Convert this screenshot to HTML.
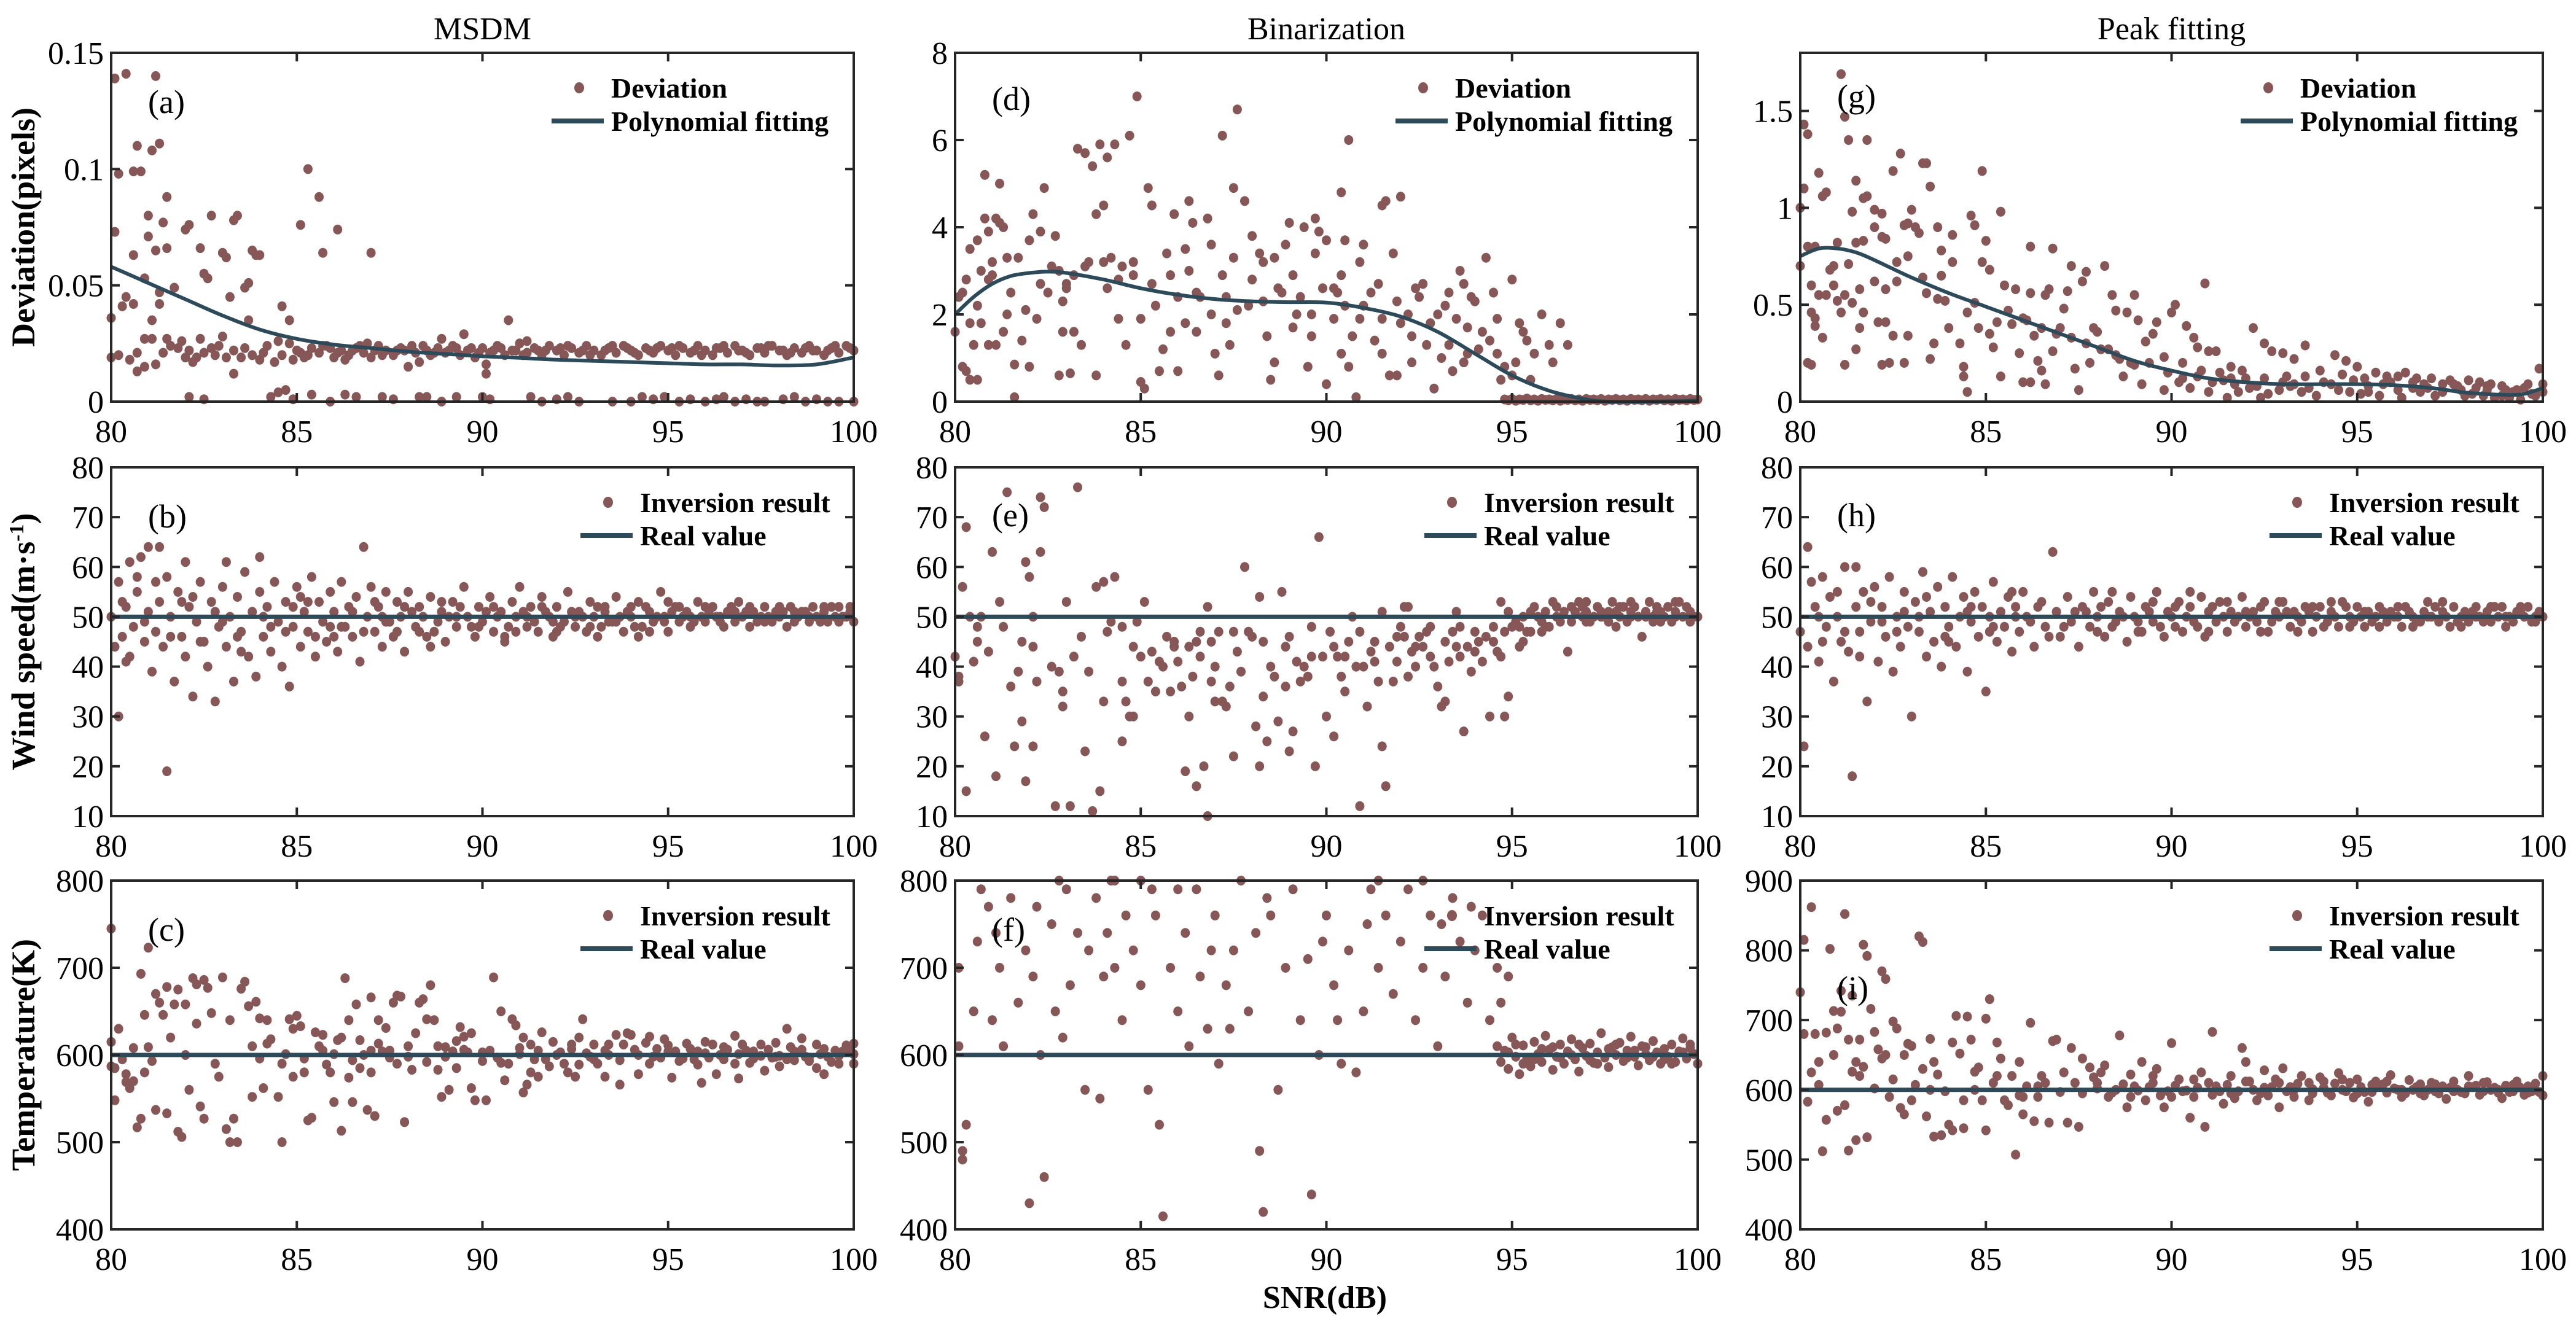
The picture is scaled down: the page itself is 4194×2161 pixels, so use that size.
<!DOCTYPE html>
<html><head><meta charset="utf-8"><style>
html,body{margin:0;padding:0;background:#fff}
svg{display:block}
text{font-family:"Liberation Serif","Times New Roman",serif;fill:#000}
</style></head><body>
<svg id="fig" width="4194" height="2161" viewBox="0 0 4194 2161" xmlns="http://www.w3.org/2000/svg"></svg>
<script>
// ---------- data (flat x,y pairs) ----------
const xTicks = [80, 85, 90, 95, 100];
const xTickLabels = ['80', '85', '90', '95', '100'];

const devMsdmPts = [80.1,0.139,80.4,0.141,81.2,0.140,80.2,0.098,80.6,0.099,80.8,0.099,80.7,0.110,81.1,0.108,81.3,0.111,81.5,0.088,81.4,0.077,81.0,0.080,80.1,0.073,81.0,0.071,81.2,0.065,82.0,0.074,82.1,0.076,82.7,0.080,83.3,0.078,83.4,0.080,82.4,0.066,83.0,0.064,83.1,0.062,83.8,0.065,83.9,0.063,84.0,0.063,80.6,0.063,81.5,0.066,80.9,0.053,80.4,0.045,80.6,0.042,80.3,0.041,80.0,0.036,81.1,0.035,81.3,0.047,81.3,0.042,81.7,0.049,82.5,0.055,82.6,0.053,83.2,0.045,83.7,0.051,83.6,0.049,83.7,0.035,84.6,0.041,84.8,0.035,85.1,0.076,85.3,0.100,85.6,0.088,85.7,0.064,86.1,0.074,87.0,0.064,90.7,0.035,80.7,0.013,83.3,0.012,90.1,0.012,80.9,0.027,81.1,0.027,81.5,0.027,82.4,0.027,82.1,0.022,
80.0,0.019,80.2,0.020,80.5,0.018,80.7,0.021,80.9,0.015,81.2,0.016,81.4,0.021,81.6,0.024,81.8,0.023,82.0,0.019,82.2,0.017,82.3,0.019,82.5,0.021,82.7,0.023,82.9,0.024,83.1,0.019,83.3,0.022,83.5,0.019,83.8,0.020,84.0,0.018,84.2,0.024,84.4,0.017,84.6,0.020,84.8,0.025,85.0,0.022,85.2,0.019,85.4,0.023,85.6,0.021,85.8,0.024,86.0,0.019,86.2,0.022,86.4,0.020,86.6,0.023,86.8,0.021,87.0,0.019,87.2,0.024,87.4,0.022,87.6,0.020,87.8,0.023,88.0,0.015,88.2,0.021,88.4,0.024,88.6,0.020,88.8,0.023,89.0,0.021,89.2,0.024,89.4,0.020,89.6,0.022,89.8,0.019,90.0,0.023,90.2,0.021,90.4,0.024,90.6,0.020,90.8,0.022,91.0,0.025,91.2,0.021,91.4,0.023,91.6,0.020,91.8,0.024,92.0,0.022,92.2,0.020,92.4,0.023,92.6,0.021,92.8,0.024,93.0,0.022,93.2,0.020,93.4,0.023,93.6,0.021,93.8,0.024,94.0,0.022,94.2,0.020,94.4,0.023,94.6,0.021,94.8,0.024,95.0,0.022,95.2,0.020,95.4,0.023,95.6,0.021,95.8,0.024,96.0,0.022,96.2,0.020,96.4,0.023,96.6,0.021,96.8,0.024,97.0,0.022,97.2,0.020,97.4,0.023,97.6,0.021,97.8,0.024,98.0,0.022,98.2,0.020,98.4,0.023,98.6,0.021,98.8,0.024,99.0,0.022,99.2,0.020,99.4,0.023,99.6,0.021,99.8,0.024,100,0.022,
85.1,0.021,85.9,0.023,86.5,0.022,87.1,0.022,87.9,0.022,88.5,0.022,89.1,0.022,89.7,0.023,90.3,0.022,90.9,0.022,91.5,0.022,92.1,0.023,92.7,0.022,93.3,0.022,93.9,0.023,94.5,0.022,95.1,0.023,95.7,0.022,96.3,0.023,96.9,0.022,97.5,0.023,98.1,0.022,98.7,0.023,99.3,0.022,99.9,0.023,
82.1,0.002,82.5,0.001,84.3,0.002,84.5,0.004,84.7,0.005,84.9,0.001,85.4,0.003,85.9,0.000,86.3,0.003,86.6,0.002,87.3,0.002,87.6,0.001,88.3,0.002,88.5,0.002,88.9,0.000,89.3,0.002,90.0,0.002,90.2,0.001,91.3,0.002,91.6,0.000,92.0,0.001,92.3,0.002,92.6,0.000,93.5,0.000,94.0,0.000,94.3,0.002,94.6,0.001,94.9,0.002,95.3,0.000,95.6,0.001,96.0,0.000,96.3,0.001,96.5,0.002,96.8,0.000,97.1,0.001,97.4,0.000,97.6,0.000,98.1,0.001,98.4,0.002,98.7,0.000,99.0,0.001,99.3,0.000,99.6,0.000,100,0.000];
const devMsdmExtra = [85.3,0.020,85.7,0.024,86.1,0.021,86.7,0.024,87.3,0.020,87.7,0.022,88.1,0.024,88.7,0.021,89.3,0.023,89.9,0.021,90.5,0.023,91.1,0.020,91.7,0.022,92.3,0.024,92.9,0.020,93.5,0.024,94.1,0.021,94.7,0.023,95.3,0.024,95.9,0.020,96.5,0.024,97.1,0.021,97.7,0.024,98.3,0.021,98.9,0.022,99.5,0.024,82.8,0.020,83.6,0.023,84.1,0.021,84.9,0.018,81.9,0.026,83.0,0.028,84.5,0.026,86.9,0.025,88.9,0.027,89.5,0.029,91.2,0.026,90.1,0.016,86.3,0.018,88.3,0.017];

const devBinPts = [80.1,2.4,80.2,2.5,80.3,2.8,80.4,3.5,80.6,3.7,80.7,3.0,80.9,3.9,80.8,4.2,81.1,4.2,81.2,4.1,81.3,4.0,80.8,5.2,81.2,5.0,81.4,3.3,81.5,2.5,81.3,1.6,81.1,1.3,80.9,1.3,80.5,1.3,80.4,1.8,80.0,1.6,80.2,0.8,80.3,0.7,80.4,0.5,80.6,0.5,80.7,1.8,80.9,2.8,81.0,2.9,81.6,0.85,81.6,0.1,81.8,1.4,81.9,2.1,82.0,3.7,82.1,4.3,82.2,1.9,82.3,3.9,82.4,4.9,82.5,2.5,82.6,3.1,82.7,3.8,82.8,0.6,82.9,1.6,83.0,2.7,83.1,0.65,83.2,2.9,83.3,5.8,83.5,5.7,83.4,1.3,83.6,3.2,83.7,5.4,83.8,4.3,83.9,5.9,84.0,4.5,84.1,5.6,84.2,3.3,84.3,5.9,84.4,2.8,84.5,3.1,84.7,6.1,84.8,3.2,84.9,7.0,85.0,1.9,85.2,4.9,85.3,4.5,85.1,0.3,85.0,0.45,85.4,2.2,85.5,0.7,85.6,1.2,85.7,3.4,85.9,4.3,86.0,2.4,86.2,1.8,86.3,4.6,86.4,4.1,86.5,1.6,86.6,2.4,86.8,4.2,86.9,3.6,87.0,1.1,87.1,0.6,87.2,2.9,87.3,1.8,87.5,3.3,87.6,2.1,87.8,4.6,87.9,2.2,88.0,3.8,88.2,3.4,88.3,3.2,88.4,1.5,88.6,0.9,88.7,2.6,88.8,2.5,89.0,4.1,89.1,1.7,89.3,2.4,89.4,4.0,89.5,0.8,89.6,2.0,89.7,4.2,89.8,3.9,90.0,3.7,90.2,2.6,90.3,2.5,90.5,2.2,90.4,1.1,90.6,0.8,90.7,1.5,90.9,3.2,91.0,3.6,91.2,2.5,91.3,1.4,91.5,1.1,91.7,0.6,91.8,3.4,91.9,0.6,92.0,1.8,92.2,2.0,92.3,1.5,92.4,2.6,92.6,2.7,92.7,1.3,92.9,0.3,93.0,2.0,93.1,1.0,93.3,1.3,93.5,1.9,93.6,3.0,93.7,2.7,93.8,1.7,94.0,2.3,94.2,1.6,94.3,3.3,94.5,2.5,94.6,1.9,94.8,0.8,95.0,2.8,95.2,1.8,95.4,1.4,95.6,1.1,95.8,2.0,96.0,1.3,96.3,1.8,96.5,1.3,87.2,6.1,87.6,6.7,87.5,4.9,90.6,6.0,91.5,4.5,91.6,4.6,92.0,4.7,90.4,4.8,90.5,3.7,93.4,0.7,94.7,0.5,93.8,1.1,95.1,0.9,82.0,0.8,83.8,0.6,84.6,1.3,86.0,0.7,88.5,0.5,90.0,0.4,90.8,0.1,81.0,3.2,82.8,3.0,83.0,2.6,84.0,3.2,85.8,2.9,86.5,2.5,87.3,2.4,88.3,2.3,89.2,2.0,89.6,1.5,90.2,1.9,91.0,2.2,91.5,1.9,92.5,2.4,93.2,2.2,93.9,2.4,94.4,1.4,95.3,1.6,
94.8,0.05,94.9,0.03,95.0,0.06,95.1,0.02,95.2,0.05,95.3,0.04,95.4,0.07,95.5,0.03,95.6,0.05,95.7,0.02,95.8,0.06,95.9,0.04,96.0,0.05,96.1,0.03,96.2,0.06,96.3,0.02,96.4,0.05,96.5,0.04,96.6,0.06,96.7,0.03,96.8,0.05,96.9,0.02,97.0,0.06,97.1,0.04,97.2,0.05,97.3,0.03,97.4,0.06,97.5,0.02,97.6,0.05,97.7,0.04,97.8,0.06,97.9,0.03,98.0,0.05,98.1,0.02,98.2,0.06,98.3,0.04,98.4,0.05,98.5,0.03,98.6,0.06,98.7,0.02,98.8,0.05,98.9,0.04,99.0,0.06,99.1,0.03,99.2,0.05,99.3,0.02,99.4,0.06,99.5,0.04,99.6,0.05,99.7,0.03,99.8,0.06,99.9,0.04,100,0.05];
const devBinExtra = [80.6,2.2,81.4,2.0,82.3,2.7,82.9,2.3,83.5,3.1,84.1,2.6,84.8,2.9,85.3,2.7,85.8,1.6,86.3,3.0,86.9,2.0,87.4,1.3,88.0,2.8,88.6,3.3,89.1,2.9,89.9,2.6,90.4,2.9,90.9,1.9,91.4,2.7,91.9,2.3,92.3,0.9,92.8,1.8,93.3,2.5,93.7,0.9,94.1,1.2,94.6,1.1,95.0,0.6,95.5,0.5,96.1,0.9,86.2,3.5,88.9,3.6,89.7,3.4,84.4,1.9,83.2,1.6,81.7,3.3];

const devPeakPts = [80.0,1.0,80.1,1.43,80.2,1.38,80.1,1.1,80.5,1.18,80.6,1.06,80.7,1.08,80.0,0.7,80.3,0.6,80.2,0.8,80.4,0.8,80.5,0.55,80.7,0.55,80.8,0.68,80.9,0.7,80.9,0.6,81.0,0.82,81.0,0.52,81.2,0.55,81.1,0.46,81.3,0.71,80.3,0.46,80.4,0.43,80.4,0.39,80.6,0.33,80.2,0.2,80.3,0.19,81.2,0.19,81.5,0.27,81.4,0.51,81.6,0.38,81.7,0.46,81.6,0.58,81.4,0.98,81.7,1.05,81.8,1.06,81.5,0.82,81.7,0.83,81.1,1.69,81.2,1.47,81.3,1.35,81.8,1.35,81.5,1.14,82.0,0.99,82.2,0.97,82.0,0.90,82.2,0.85,82.3,0.84,82.0,0.62,82.3,0.58,82.1,0.41,82.3,0.41,82.5,0.34,82.2,0.19,82.4,0.2,82.5,1.19,82.6,0.72,82.6,0.62,82.7,1.28,82.8,0.91,82.9,0.92,83.0,0.99,82.9,0.75,82.8,0.20,82.9,0.34,83.1,0.9,83.2,0.87,83.3,1.23,83.4,1.23,83.3,0.64,83.4,0.56,83.5,1.11,83.5,0.22,83.6,0.30,83.7,0.53,83.8,0.65,83.7,0.9,83.8,0.78,83.9,0.52,84.0,0.38,84.1,0.86,84.1,0.72,84.3,0.30,84.4,0.18,84.4,0.13,84.5,0.05,84.5,0.46,84.6,0.96,84.7,0.91,84.7,0.51,84.8,0.38,84.9,0.72,85.0,0.83,85.1,0.68,85.1,0.35,85.2,0.28,84.9,1.19,85.5,0.60,85.6,0.47,85.4,0.98,85.8,0.58,86.0,0.43,86.2,0.80,86.2,0.56,86.3,0.34,86.4,0.21,86.5,0.16,86.0,0.10,86.2,0.10,86.6,0.55,86.7,0.58,87.0,0.38,87.2,0.57,87.4,0.17,87.5,0.06,87.3,0.70,87.6,0.62,86.8,0.79,87.7,0.67,87.9,0.38,88.0,0.36,88.3,0.27,88.6,0.22,89.0,0.19,89.3,0.31,89.6,0.41,89.8,0.23,89.2,0.09,89.8,0.06,88.2,0.70,88.5,0.47,88.8,0.46,89.0,0.55,90.0,0.46,90.1,0.5,90.3,0.2,90.4,0.39,90.6,0.33,90.7,0.28,90.9,0.61,91.0,0.26,91.2,0.26,91.4,0.11,91.6,0.18,91.8,0.05,92.0,0.12,92.2,0.38,92.5,0.30,92.7,0.26,93.0,0.25,93.3,0.22,93.6,0.29,91.5,0.02,92.4,0.02,93.0,0.10,93.2,0.08,93.6,0.13,94.0,0.16,94.4,0.24,94.7,0.21,95.0,0.18,95.2,0.12,95.5,0.15,94.8,0.05,95.3,0.05,95.9,0.10,96.1,0.13,96.3,0.15,96.5,0.07,96.7,0.05,97.0,0.12,97.3,0.09,97.6,0.09,98.0,0.11,98.3,0.10,98.5,0.08,98.9,0.08,99.2,0.05,99.6,0.09,99.9,0.17,100,0.05,99.4,0.01,98.7,0.02,97.9,0.03,
85.3,0.41,85.7,0.40,86.1,0.42,86.5,0.38,86.9,0.35,87.3,0.33,87.7,0.30,88.1,0.27,88.5,0.24,88.9,0.20,89.4,0.20,89.9,0.15,90.3,0.12,90.7,0.13,91.1,0.10,91.3,0.15,91.7,0.09,92.1,0.07,92.5,0.12,92.9,0.06,93.3,0.09,93.7,0.07,94.1,0.10,94.5,0.06,94.9,0.11,95.3,0.08,95.7,0.09,96.1,0.06,96.5,0.10,96.9,0.07,97.3,0.05,97.7,0.08,98.1,0.04,98.5,0.06,98.9,0.03,99.3,0.06,99.7,0.04,100,0.09];
const devPeakExtra = [90.2,0.10,90.5,0.07,90.8,0.16,91.0,0.05,91.6,0.12,91.9,0.16,92.3,0.08,92.6,0.04,93.1,0.13,93.5,0.05,93.9,0.03,94.3,0.09,94.6,0.14,95.1,0.04,95.6,0.03,95.8,0.13,96.2,0.02,96.6,0.12,96.8,0.09,97.1,0.03,97.5,0.11,97.8,0.06,98.2,0.07,98.4,0.03,98.6,0.09,99.0,0.06,99.1,0.02,99.5,0.07,99.8,0.03,86.8,0.26,87.1,0.48,87.8,0.20,88.4,0.55,88.7,0.13,89.5,0.35,89.1,0.42,85.9,0.25,85.4,0.13,86.6,0.09];

const windMsdmPts = [80.0,50,80.1,44,80.2,30,80.2,57,80.3,46,80.4,52,80.5,61,80.5,42,80.6,48,80.7,55,80.8,62,80.9,45,81.0,64,81.0,51,81.1,39,81.2,47,81.3,64,81.3,53,81.4,44,81.5,19,81.5,58,81.6,50,81.7,37,81.8,55,81.9,46,82.0,61,82.0,42,82.1,52,82.2,34,82.3,49,82.4,57,82.5,45,82.6,40,82.7,53,82.8,33,82.9,48,83.0,56,83.1,61,83.1,44,83.2,50,83.3,37,83.4,54,83.5,47,83.6,59,83.7,42,83.8,51,83.9,38,84.0,62,84.0,55,84.1,46,84.2,52,84.3,43,84.4,57,84.5,49,84.6,40,84.7,53,84.8,36,84.9,48,85.0,56,85.1,44,85.2,51,85.3,47,85.4,58,85.5,42,85.6,53,85.7,49,85.8,45,85.9,55,86.0,51,86.1,43,86.2,57,86.3,48,86.4,52,86.5,46,86.6,54,86.7,41,86.8,64,86.9,50,87.0,56,87.1,47,87.2,52,87.3,44,87.4,55,87.5,49,87.6,46,87.7,53,87.8,50,87.9,43,88.0,55,88.2,48,88.3,52,88.5,46,88.6,54,88.8,49,88.9,51,89.0,45,89.2,53,89.3,48,89.5,56,89.6,50,89.8,46,89.9,52,90.0,49,90.2,54,90.3,47,90.5,51,90.6,45,90.8,53,90.9,50,91.0,56,91.2,48,91.3,52,91.5,47,91.6,54,91.8,50,91.9,46,92.0,52,92.2,49,92.3,55,92.5,48,92.6,51,92.8,47,92.9,53,93.0,50,93.2,48,93.3,52,93.5,49,93.6,54,93.8,47,93.9,51,94.0,50,94.2,53,94.3,48,94.5,51,94.6,49,94.8,55,94.9,50,95.0,47,95.2,52,95.3,49,95.5,51,95.6,48,95.8,53,95.9,50,96.0,49,96.2,52,96.3,50,96.5,48,96.6,51,96.8,49,96.9,53,97.0,50,97.2,48,97.3,51,97.5,50,97.6,52,97.8,49,97.9,51,98.0,50,98.2,48,98.3,52,98.5,50,98.6,51,98.8,49,98.9,52,99.0,50,99.2,51,99.3,49,99.5,50,99.6,52,99.8,50,99.9,51,100,49,
80.3,53,80.9,49,81.6,46,82.2,54,82.8,51,83.4,46,84.1,50,84.7,47,85.3,53,85.9,48,86.5,51,87.1,53,87.7,47,88.1,51,88.4,50,88.7,47,89.1,50,89.4,52,89.7,48,90.1,51,90.4,50,90.7,48,91.1,51,91.4,49,91.7,51,92.1,48,92.4,51,92.7,50,93.1,52,93.4,49,93.7,50,94.1,48,94.4,52,94.7,50,95.1,51,95.4,50,95.7,49,96.1,51,96.4,49,96.7,52,97.1,51,97.4,49,97.7,50,98.1,51,98.4,49,98.7,51,99.1,49,99.4,52,99.7,50];
const windMsdmExtra = [80.4,41,80.7,58,81.2,57,81.9,53,82.4,45,83.0,49,83.5,43,84.3,48,84.9,52,85.5,46,86.2,48,86.8,47,87.4,49,87.9,52,88.3,47,88.9,53,89.3,50,89.9,48,90.3,52,90.9,47,91.2,50,91.6,52,92.0,47,92.5,50,92.9,48,93.3,51,93.6,49,94.0,52,94.5,47,94.9,49,95.3,52,95.6,50,96.0,52,96.4,50,96.8,51,97.2,52,97.6,49,98.0,52,98.4,51,98.8,50,99.2,52,99.6,49,99.9,52,85.1,54,86.0,46,87.3,50,88.6,44,90.6,46,91.9,49,93.1,46,94.2,46,95.0,53];

const windBinPts = [80.0,42,80.1,37,80.1,38,80.2,56,80.3,68,80.3,15,80.4,50,80.5,41,80.6,48,80.6,45,80.7,50,80.8,26,80.9,43,81.0,63,81.1,18,81.2,53,81.3,48,81.4,75,81.5,36,81.6,24,81.7,39,81.8,29,81.9,61,81.9,17,82.0,58,82.1,24,82.1,44,82.2,37,82.3,74,82.3,63,82.4,72,82.6,40,82.7,12,82.8,39,82.9,35,82.9,32,83.0,53,83.1,12,83.2,42,83.3,76,83.4,46,83.5,23,83.7,11,83.8,56,83.9,15,84.0,33,84.1,47,84.2,49,84.3,58,84.5,25,84.5,37,84.6,33,84.7,30,84.8,30,84.9,49,85.0,42,85.1,53,85.3,43,85.4,35,85.5,41,85.6,40,85.7,46,85.8,35,85.9,44,86.0,41,86.1,36,86.2,19,86.3,30,86.4,38,86.5,45,86.5,16,86.6,42,86.7,20,86.8,10,86.9,37,87.0,33,87.1,47,87.2,33,87.3,32,87.4,36,87.5,47,87.5,22,87.7,39,87.8,60,87.9,47,88.0,46,88.1,28,88.2,20,88.3,34,88.4,25,88.5,40,88.6,38,88.7,29,88.8,55,88.9,44,89.0,23,89.1,27,89.2,41,89.3,37,89.4,40,89.5,38,89.6,42,89.7,20,89.8,66,89.9,42,90.0,30,90.1,47,90.2,26,90.3,42,90.4,38,90.5,35,90.6,45,90.7,50,90.8,40,90.9,12,91.0,40,91.1,32,91.2,43,91.3,45,91.4,37,91.5,24,91.6,16,91.7,44,91.8,37,91.9,41,92.0,48,92.1,46,92.2,52,92.3,43,92.4,40,92.5,46,92.6,44,92.7,47,92.8,48,92.9,40,93.0,36,93.1,32,93.2,33,93.3,41,93.4,47,93.5,44,93.6,42,93.7,27,93.8,44,93.9,39,94.0,47,94.1,45,94.2,41,94.3,46,94.4,30,94.5,48,94.6,43,94.7,42,94.8,30,94.9,34,95.0,48,95.1,49,95.2,44,95.3,45,95.4,47,95.5,47,95.6,52,95.7,50,95.8,49,95.9,51,96.0,48,96.1,53,96.2,50,96.3,49,96.5,43,96.6,52,96.7,51,96.8,53,96.9,50,97.0,51,97.1,49,97.2,50,97.3,52,97.4,51,97.5,50,97.6,49,97.7,53,97.8,51,97.9,50,98.0,52,98.1,49,98.2,51,98.3,52,98.4,50,98.5,46,98.6,51,98.7,53,98.8,50,98.9,52,99.0,51,99.1,50,99.2,52,99.3,49,99.4,51,99.5,53,99.6,50,99.7,52,99.8,51,99.9,50,100,50,88.2,54,86.8,52,86.6,47,91.5,51,92.1,52,93.5,51,94.7,53,94.9,51,85.9,45,84.0,57,84.5,48,82.1,50,81.8,45,95.3,50,95.9,48,96.4,51,97.0,49,97.6,51,98.2,50,98.8,49,99.4,50,96.9,52,97.9,52,98.9,51];
const windBinExtra = [89.0,46,89.6,48,90.2,44,90.9,47,91.3,41,91.9,46,92.4,44,92.8,42,93.2,45,93.6,48,94.0,43,94.5,45,94.8,47,95.2,48,95.5,51,95.8,47,96.2,52,96.6,49,97.0,53,97.4,50,97.8,48,98.2,53,98.6,50,99.0,49,99.4,53,99.8,49,86.3,44,87.0,40,87.6,43,88.3,45,84.8,44,83.6,39,85.2,37,86.9,45,88.9,36,90.5,42,92.2,38];

const windPeakPts = [80.0,47,80.1,24,80.2,64,80.2,44,80.3,57,80.4,52,80.5,41,80.6,58,80.7,48,80.8,54,80.9,37,81.0,50,81.1,45,81.2,60,81.3,43,81.4,18,81.5,60,81.5,52,81.6,47,81.7,55,81.8,33,81.9,49,82.0,56,82.1,41,82.2,52,82.3,46,82.4,58,82.5,39,82.6,50,82.7,44,82.8,55,82.9,48,83.0,30,83.1,53,83.2,47,83.3,59,83.4,42,83.5,51,83.6,45,83.7,56,83.8,40,83.9,52,84.0,48,84.1,58,84.2,44,84.3,50,84.4,54,84.5,39,84.6,49,84.7,55,84.8,46,84.9,52,85.0,35,85.1,50,85.2,57,85.3,45,85.4,51,85.5,48,85.6,54,85.7,43,85.8,52,85.9,47,86.0,55,86.2,49,86.3,44,86.5,53,86.6,48,86.8,63,86.9,51,87.0,46,87.2,54,87.3,49,87.5,44,87.6,52,87.8,48,87.9,55,88.0,50,88.2,46,88.3,53,88.5,49,88.6,51,88.8,45,88.9,54,89.0,50,89.2,47,89.3,52,89.5,49,89.6,55,89.8,46,89.9,51,90.0,50,90.2,53,90.3,47,90.5,52,90.6,49,90.8,54,90.9,46,91.0,51,91.2,49,91.3,53,91.5,47,91.6,51,91.8,50,91.9,54,92.0,48,92.2,51,92.3,49,92.5,53,92.6,47,92.8,51,92.9,50,93.0,53,93.2,48,93.3,51,93.5,49,93.6,52,93.8,47,93.9,50,94.0,52,94.2,49,94.3,51,94.5,48,94.6,53,94.8,50,94.9,49,95.0,52,95.2,48,95.3,51,95.5,50,95.6,52,95.8,49,95.9,51,96.0,50,96.2,48,96.3,52,96.5,50,96.6,49,96.8,51,96.9,53,97.0,50,97.2,49,97.3,51,97.5,48,97.6,52,97.8,50,97.9,51,98.0,49,98.2,52,98.3,50,98.5,51,98.6,49,98.8,50,98.9,52,99.0,50,99.2,49,99.3,51,99.5,50,99.6,52,99.8,49,99.9,51,100,50,
80.5,50,81.2,47,81.9,53,82.6,47,83.2,50,83.9,46,84.5,51,85.2,48,85.8,50,86.4,52,87.1,48,87.7,51,88.1,52,88.4,48,88.7,50,89.1,49,89.4,51,89.7,48,90.1,52,90.4,50,90.7,48,91.1,52,91.4,50,91.7,49,92.1,50,92.4,52,92.7,49,93.1,51,93.4,50,93.7,51,94.1,48,94.4,50,94.7,52,95.1,50,95.4,49,95.7,51,96.1,50,96.4,51,96.7,49,97.1,52,97.4,50,97.7,49,98.1,51,98.4,49,98.7,52,99.1,50,99.4,51,99.7,49];
const windPeakExtra = [80.6,45,81.0,55,81.6,42,82.2,49,82.8,51,83.4,54,84.0,45,84.6,52,85.1,47,85.7,55,86.1,50,86.7,46,87.4,51,88.0,47,88.4,55,89.1,47,89.5,53,90.1,48,90.5,55,91.0,47,91.5,53,92.0,51,92.4,47,92.9,53,93.4,47,93.8,52,94.3,53,94.8,48,95.2,51,95.6,48,96.1,52,96.5,48,96.9,50,97.3,53,97.8,48,98.2,50,98.6,52,99.0,48,99.4,52,99.8,50];

const tempMsdmPts = [80.0,745,80.0,615,80.0,587,80.1,585,80.1,548,80.2,630,80.3,595,80.4,578,80.4,569,80.5,562,80.6,608,80.6,570,80.7,517,80.8,693,80.8,527,80.9,646,81.0,723,81.0,609,81.1,593,81.2,537,81.2,670,81.3,660,81.4,646,81.5,678,81.5,533,81.7,658,81.8,675,81.8,512,81.9,506,82.0,658,82.1,560,82.2,688,82.3,681,82.3,636,82.4,541,82.5,686,82.5,527,82.6,677,82.7,648,82.8,590,82.9,575,83.0,689,83.1,515,83.2,500,83.2,640,83.3,527,83.4,500,83.5,676,83.6,684,83.7,656,83.8,552,83.9,661,84.0,596,84.0,642,84.1,562,84.2,613,84.3,618,84.5,552,84.6,500,84.7,601,84.8,641,84.9,630,85.0,645,85.1,633,85.2,596,85.3,525,85.4,528,85.5,626,85.6,610,85.7,623,85.8,589,85.9,580,86.0,546,86.1,617,86.2,513,86.3,688,86.4,574,86.5,546,86.6,658,86.7,617,86.8,600,86.9,537,87.0,666,87.1,530,87.2,613,87.3,604,87.4,631,87.5,605,87.6,660,87.7,668,87.8,667,87.9,523,88.0,598,88.1,583,88.3,660,88.4,664,88.5,641,88.6,680,88.7,640,88.8,583,88.9,552,89.0,609,89.1,560,89.2,604,89.3,616,89.4,632,89.5,621,89.6,603,89.7,562,89.8,548,90.0,593,90.1,548,90.3,689,90.4,597,90.5,650,90.6,571,90.8,641,90.9,634,91.0,608,91.1,557,91.2,566,91.3,580,91.4,595,91.5,575,91.6,626,91.8,587,92.0,600,92.2,590,92.4,607,92.5,575,92.6,589,92.7,641,92.8,602,93.0,612,93.1,590,93.3,575,93.4,612,93.6,623,93.7,566,93.9,625,94.0,623,94.2,578,94.4,614,94.5,621,94.7,607,94.8,597,95.0,604,95.1,574,95.3,593,95.5,613,95.6,607,95.8,589,95.9,568,96.0,602,96.2,612,96.3,578,96.5,595,96.6,606,96.8,622,96.9,573,97.0,612,97.2,591,97.3,604,97.5,599,97.6,582,97.8,597,97.9,614,98.0,587,98.2,630,98.3,609,98.4,594,98.6,619,98.7,598,98.8,597,99.0,585,99.1,601,99.2,578,99.4,592,99.5,605,99.6,590,99.8,611,99.9,605,100,590,100,613,
86.0,601,86.5,594,87.0,605,87.5,597,88.0,610,88.5,592,89.0,598,89.5,606,90.0,603,90.5,591,91.0,601,91.3,612,91.7,595,92.1,603,92.4,612,92.9,598,93.3,605,93.7,594,94.1,606,94.6,598,95.0,611,95.4,596,95.8,604,96.1,597,96.5,609,96.9,601,97.3,596,97.7,606,98.0,599,98.4,604,98.8,593,99.2,607,99.6,599,100,601];
const tempMsdmExtra = [84.2,640,84.6,590,85.2,580,85.7,605,86.2,620,86.7,585,87.2,640,87.7,590,88.2,625,88.8,610,89.3,585,89.7,625,90.2,605,90.7,590,91.1,620,91.5,605,91.9,615,92.3,580,92.6,620,93.0,595,93.4,600,93.8,612,94.2,600,94.5,590,94.9,618,95.2,604,95.7,595,96.0,615,96.4,600,96.8,590,97.1,605,97.5,612,97.9,598,98.2,595,98.6,606,99.0,612,99.3,598,99.7,604,82.0,600,81.6,620,80.9,580,83.8,610,84.9,575,86.4,640,87.0,580];

const tempBinPts = [80.1,700,80.1,610,80.2,490,80.2,480,80.3,520,80.5,650,80.6,730,80.7,790,80.9,770,81.0,640,81.2,700,81.3,610,81.5,780,81.7,660,81.9,720,82.0,430,82.1,690,82.3,600,82.4,460,82.6,750,82.8,800,82.9,620,83.1,680,83.3,740,83.5,560,83.6,720,83.8,780,83.9,550,84.0,690,84.2,800,84.3,700,84.5,640,84.6,760,84.8,720,85.0,680,85.2,560,85.3,790,85.5,520,85.6,415,85.8,700,86.0,650,86.2,740,86.3,610,86.5,790,86.6,690,86.8,630,87.0,760,87.1,590,87.3,680,87.5,720,87.7,800,87.9,650,88.1,740,88.2,490,88.3,420,88.5,760,88.7,560,88.9,700,89.1,790,89.3,640,89.5,710,89.6,440,89.8,600,90.0,760,90.2,680,90.4,590,90.6,720,90.8,580,91.0,650,91.2,790,91.4,700,91.6,760,91.8,670,92.0,730,92.2,790,92.4,640,92.6,700,92.8,760,93.0,610,93.2,690,93.4,780,93.6,730,93.8,660,94.0,720,94.2,760,94.4,640,94.6,700,94.7,660,94.9,690,84.3,800,85.0,800,86.0,790,91.4,800,92.6,800,
94.6,610,94.7,592,94.8,605,94.9,584,95.0,620,95.1,598,95.2,578,95.3,611,95.4,596,95.5,587,95.6,615,95.7,601,95.8,592,95.9,622,96.0,606,96.1,583,96.2,598,96.3,612,96.4,590,96.5,604,96.6,618,96.7,595,96.8,581,96.9,608,97.0,599,97.1,613,97.2,591,97.3,603,97.4,625,97.5,597,97.6,586,97.7,609,97.8,600,97.9,614,98.0,593,98.1,605,98.2,621,98.3,598,98.4,588,98.5,610,98.6,601,98.7,594,98.8,616,98.9,603,99.0,590,99.1,607,99.2,598,99.3,612,99.4,592,99.5,604,99.6,619,99.7,596,99.8,608,99.9,601,100,590,95.1,612,95.6,595,96.1,609,96.6,600,97.1,594,97.6,607,98.1,597,98.6,609,99.1,595,99.6,603];
const tempBinExtra = [94.9,603,95.3,590,95.8,607,96.3,597,96.8,612,97.3,590,97.8,612,98.3,605,98.8,598,99.3,590,99.8,612,81.1,740,82.2,770,83.0,790,84.1,740,85.4,760,86.9,720,88.4,780,89.9,730,91.1,750,93.1,750,93.9,770,82.7,650,87.4,630,90.3,640];

const tempPeakPts = [80.0,740,80.1,815,80.1,680,80.2,583,80.3,625,80.3,862,80.4,680,80.5,640,80.5,607,80.6,512,80.7,682,80.7,557,80.8,802,80.9,713,80.9,650,81.0,688,81.0,570,81.1,712,81.1,742,81.2,578,81.2,852,81.3,672,81.3,513,81.4,735,81.4,626,81.5,528,81.6,672,81.6,620,81.7,808,81.7,633,81.8,792,81.8,532,81.9,716,82.0,602,82.0,683,82.1,658,82.2,770,82.2,645,82.3,759,82.3,650,82.5,698,82.5,615,82.6,688,82.7,574,82.8,565,82.8,650,82.9,666,83.0,663,83.0,585,83.1,607,83.2,820,83.3,812,83.3,630,83.4,562,83.5,673,83.6,533,83.6,640,83.7,622,83.8,535,83.9,598,84.0,550,84.1,668,84.1,542,84.2,706,84.3,652,84.4,585,84.4,545,84.5,705,84.6,672,84.7,626,84.8,632,84.9,585,85.0,702,85.0,542,85.1,730,85.2,610,85.3,668,85.4,645,85.5,585,85.6,578,85.7,620,85.8,507,85.9,592,86.0,565,86.1,605,86.2,696,86.3,555,86.4,590,86.5,620,86.6,610,86.7,553,86.8,670,86.9,672,87.0,597,87.2,553,87.3,660,87.5,547,87.6,645,87.8,632,87.9,618,88.0,610,88.2,635,88.3,590,88.5,600,88.6,678,88.8,575,88.9,622,89.0,605,89.2,640,89.3,585,89.5,610,89.6,630,89.8,575,89.9,598,90.0,667,90.2,615,90.3,598,90.5,560,90.6,590,90.8,625,90.9,547,91.0,610,91.1,683,91.3,598,91.4,580,91.6,620,91.7,588,91.9,660,92.0,640,92.2,600,92.3,585,92.5,628,92.6,592,92.8,615,92.9,575,93.0,631,93.2,604,93.3,590,93.5,620,93.7,610,93.8,595,94.0,618,94.1,603,94.3,592,94.5,624,94.6,600,94.8,610,94.9,589,95.0,615,95.2,597,95.3,583,95.5,612,95.6,605,95.8,596,95.9,621,96.0,602,96.2,590,96.4,614,96.5,600,96.7,608,96.8,592,97.0,610,97.1,598,97.3,605,97.4,587,97.6,612,97.7,600,97.9,595,98.0,620,98.2,606,98.3,593,98.5,611,98.6,600,98.8,596,98.9,588,99.0,606,99.2,598,99.3,612,99.5,593,99.6,605,99.8,609,99.9,597,100,620,100,592,
88.0,602,88.4,596,88.7,608,89.1,599,89.4,604,89.7,592,90.1,606,90.4,599,90.7,603,91.1,593,91.5,607,91.8,598,92.1,612,92.4,595,92.7,604,93.1,598,93.4,609,93.8,601,94.2,596,94.4,609,94.7,598,95.1,604,95.4,597,95.7,608,96.1,600,96.3,595,96.6,604,96.9,600,97.2,595,97.5,603,97.8,597,98.1,604,98.4,598,98.7,603,99.1,597,99.4,603,99.7,598];
const tempPeakExtra = [84.7,600,85.3,620,85.9,640,86.4,605,87.1,625,87.6,595,88.1,625,88.9,590,89.5,620,90.0,590,90.6,615,91.2,605,91.6,595,92.0,612,92.5,603,92.9,610,93.3,600,93.7,585,94.1,612,94.6,615,95.0,595,95.4,607,95.8,612,96.2,600,96.7,595,97.1,608,97.6,598,98.0,605,98.4,610,98.8,600,99.2,607,99.6,596,86.0,590,87.4,610,83.5,600,82.4,590,81.5,640];

// polynomial fits: x and y
const fitMsdmX = [80,81,82,83,84,85,86,87,88,89,90,91,92,93,94,95,96,97,98,99,100];
const fitMsdmY = [0.058,0.051,0.044,0.037,0.031,0.027,0.0245,0.023,0.0215,0.0205,0.0195,0.0188,0.018,0.0175,0.017,0.0165,0.016,0.016,0.0155,0.016,0.019];
const fitBinX = [80,80.5,81,81.5,82,82.5,83,84,85,86,87,88,89,90,91,92,93,94,95,96,97,97.6,98.5,99.5,100];
const fitBinY = [2.0,2.4,2.7,2.88,2.95,2.98,2.95,2.8,2.6,2.45,2.35,2.3,2.28,2.27,2.15,1.95,1.6,1.1,0.6,0.25,0.05,0,0,0.01,0.03];
const fitPeakX = [80,80.5,81,81.5,82,83,84,85,86,87,88,89,90,91,92,93,94,95,96,97,98,99,99.5,100];
const fitPeakY = [0.75,0.79,0.79,0.77,0.73,0.64,0.56,0.49,0.42,0.35,0.28,0.21,0.16,0.12,0.10,0.09,0.09,0.09,0.085,0.07,0.045,0.035,0.04,0.07];
const realWind = 50;
const realTemp = 600;

// ---------- layout ----------
const colsL = [181, 1555, 2931];
const rowsT = [86, 761, 1434];
const AW = 1209, AH = 568;
const svg = document.getElementById('fig');
const NS = 'http://www.w3.org/2000/svg';
const DOT = '#875656', LINE = '#2d4a5a', AX = '#262626';

function mk(tag, attrs, parent) {
  const e = document.createElementNS(NS, tag);
  for (const k in attrs) e.setAttribute(k, attrs[k]);
  (parent || svg).appendChild(e);
  return e;
}

const panels = [
  {key:'a', c:0, r:0, ymin:0, ymax:0.15, yt:[0,0.05,0.1,0.15], ytl:['0','0.05','0.1','0.15'], pts:devMsdmPts.concat(devMsdmExtra), fx:fitMsdmX, fy:fitMsdmY, leg:['Deviation','Polynomial fitting'], lx:762, ly:80},
  {key:'b', c:0, r:1, ymin:10, ymax:80, yt:[10,20,30,40,50,60,70,80], ytl:['10','20','30','40','50','60','70','80'], pts:windMsdmPts.concat(windMsdmExtra), real:realWind, leg:['Inversion result','Real value'], lx:809, ly:80},
  {key:'c', c:0, r:2, ymin:400, ymax:800, yt:[400,500,600,700,800], ytl:['400','500','600','700','800'], pts:tempMsdmPts.concat(tempMsdmExtra), real:realTemp, leg:['Inversion result','Real value'], lx:809, ly:80},
  {key:'d', c:1, r:0, ymin:0, ymax:8, yt:[0,2,4,6,8], ytl:['0','2','4','6','8'], pts:devBinPts.concat(devBinExtra), fx:fitBinX, fy:fitBinY, leg:['Deviation','Polynomial fitting'], lx:762, ly:75},
  {key:'e', c:1, r:1, ymin:10, ymax:80, yt:[10,20,30,40,50,60,70,80], ytl:['10','20','30','40','50','60','70','80'], pts:windBinPts.concat(windBinExtra), real:realWind, leg:['Inversion result','Real value'], lx:809, ly:78},
  {key:'f', c:1, r:2, ymin:400, ymax:800, yt:[400,500,600,700,800], ytl:['400','500','600','700','800'], pts:tempBinPts.concat(tempBinExtra), real:realTemp, leg:['Inversion result','Real value'], lx:809, ly:80},
  {key:'g', c:2, r:0, ymin:0, ymax:1.8, yt:[0,0.5,1,1.5], ytl:['0','0.5','1','1.5'], pts:devPeakPts.concat(devPeakExtra), fx:fitPeakX, fy:fitPeakY, leg:['Deviation','Polynomial fitting'], lx:762, ly:71},
  {key:'h', c:2, r:1, ymin:10, ymax:80, yt:[10,20,30,40,50,60,70,80], ytl:['10','20','30','40','50','60','70','80'], pts:windPeakPts.concat(windPeakExtra), real:realWind, leg:['Inversion result','Real value'], lx:809, ly:78},
  {key:'i', c:2, r:2, ymin:400, ymax:900, yt:[400,500,600,700,800,900], ytl:['400','500','600','700','800','900'], pts:tempPeakPts.concat(tempPeakExtra), real:realTemp, leg:['Inversion result','Real value'], lx:809, ly:175}
];

function smoothPath(xs, ys, sx, sy) {
  const P = xs.map((x, i) => [sx(x), sy(ys[i])]);
  let d = 'M' + P[0][0].toFixed(1) + ',' + P[0][1].toFixed(1);
  for (let i = 0; i < P.length - 1; i++) {
    const p0 = P[Math.max(0, i - 1)], p1 = P[i], p2 = P[i + 1], p3 = P[Math.min(P.length - 1, i + 2)];
    const c1 = [p1[0] + (p2[0] - p0[0]) / 6, p1[1] + (p2[1] - p0[1]) / 6];
    const c2 = [p2[0] - (p3[0] - p1[0]) / 6, p2[1] - (p3[1] - p1[1]) / 6];
    d += ' C' + c1[0].toFixed(1) + ',' + c1[1].toFixed(1) + ' ' + c2[0].toFixed(1) + ',' + c2[1].toFixed(1) + ' ' + p2[0].toFixed(1) + ',' + p2[1].toFixed(1);
  }
  return d;
}

panels.forEach(p => {
  const L = colsL[p.c], T = rowsT[p.r], B = T + AH, R = L + AW;
  const sx = x => L + (x - 80) / 20 * AW;
  const sy = y => B - (y - p.ymin) / (p.ymax - p.ymin) * AH;
  const g = mk('g', {});
  
  

  const pg = mk('g', {fill: DOT}, g);
  
  
  for (let i = 0; i < p.pts.length; i += 2) {
    const x = p.pts[i], y = p.pts[i + 1];
    if (y < p.ymin || y > p.ymax) continue;
    const c = mk('ellipse', {cx: sx(x).toFixed(1), cy: sy(y).toFixed(1), rx: 7.5, ry: 8}, pg);
    
    
  }
  if (p.fx) {
    const path = mk('path', {d: smoothPath(p.fx, p.fy, sx, sy), fill: 'none', stroke: LINE, 'stroke-width': 6}, g);
    
    
  } else {
    const ln = mk('line', {x1: L, x2: R, y1: sy(p.real), y2: sy(p.real), stroke: LINE, 'stroke-width': 7}, g);
    
    
  }
  const box = mk('rect', {x: L, y: T, width: AW, height: AH, fill: 'none', stroke: AX, 'stroke-width': 4}, g);
  
  
  xTicks.forEach((v, i) => {
    const X = sx(v);
    mk('line', {x1: X, x2: X, y1: B, y2: B - 14, stroke: AX, 'stroke-width': 4}, g);
    mk('line', {x1: X, x2: X, y1: T, y2: T + 14, stroke: AX, 'stroke-width': 4}, g);
    const t = mk('text', {x: X, y: B + 66, 'text-anchor': 'middle', 'font-size': 52}, g);
    t.textContent = xTickLabels[i];
    
    
  });
  p.yt.forEach((v, i) => {
    const Y = sy(v);
    mk('line', {x1: L, x2: L + 14, y1: Y, y2: Y, stroke: AX, 'stroke-width': 4}, g);
    mk('line', {x1: R, x2: R - 14, y1: Y, y2: Y, stroke: AX, 'stroke-width': 4}, g);
    const t = mk('text', {x: L - 12, y: Y + 18, 'text-anchor': 'end', 'font-size': 52}, g);
    t.textContent = p.ytl[i];
    
    
  });
  const pl = mk('text', {x: L + 60, y: T + p.ly + 18, 'font-size': 54}, g);
  pl.textContent = '(' + p.key + ')';
  
  
  const lg = mk('g', {}, g);
  
  
  const mx = L + p.lx;
  const m = mk('ellipse', {cx: mx, cy: T + 57, rx: 8, ry: 9, fill: DOT}, lg);
  
  
  const t1 = mk('text', {x: mx + 52, y: T + 73, 'font-size': 46, 'font-weight': 'bold'}, lg);
  t1.textContent = p.leg[0];
  
  
  const ll = mk('line', {x1: mx - 45, x2: mx + 40, y1: T + 111, y2: T + 111, stroke: LINE, 'stroke-width': 8}, lg);
  
  
  const t2 = mk('text', {x: mx + 52, y: T + 127, 'font-size': 46, 'font-weight': 'bold'}, lg);
  t2.textContent = p.leg[1];
  
  
});

['MSDM', 'Binarization', 'Peak fitting'].forEach((s, i) => {
  const t = mk('text', {x: colsL[i] + AW / 2, y: 64, 'text-anchor': 'middle', 'font-size': 52});
  t.textContent = s;
  
  
});
['Deviation(pixels)', 'Wind speed(m·s', 'Temperature(K)'].forEach((s, i) => {
  const cy = rowsT[i] + AH / 2;
  const t = mk('text', {x: 0, y: 0, 'text-anchor': 'middle', 'font-size': 54, 'font-weight': 'bold', transform: 'translate(56,' + cy + ') rotate(-90)'});
  t.textContent = s;
  if (i === 1) {
    const sp = mk('tspan', {'baseline-shift': 'super', 'font-size': 34}, t);
    sp.textContent = '-1';
    const sp2 = mk('tspan', {}, t);
    sp2.textContent = ')';
  }
  
  
});
const xt = mk('text', {x: 2157, y: 2130, 'text-anchor': 'middle', 'font-size': 52, 'font-weight': 'bold'});
xt.textContent = 'SNR(dB)';


</script>
</body></html>
